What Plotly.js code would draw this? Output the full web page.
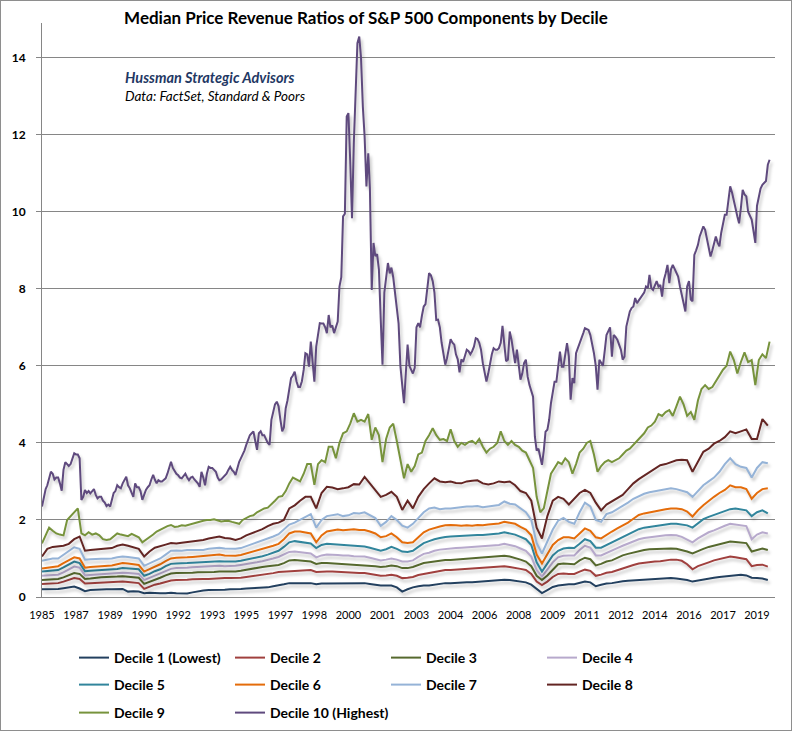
<!DOCTYPE html>
<html><head><meta charset="utf-8">
<script src="https://cdn.plot.ly/plotly-3.0.1.min.js"></script>
<style>html,body{margin:0;padding:0;background:#fff;}#frame{position:absolute;left:0;top:0;width:792px;height:731px;box-sizing:border-box;border:1px solid #8e8e8e;pointer-events:none;}
#chart .scatterlayer .js-line{filter:drop-shadow(2px 3px 1.5px rgba(0,0,0,0.22));}</style>
</head><body>
<div id="chart" style="position:absolute;left:0;top:0;width:792px;height:731px;"></div><div id="frame"></div>
<script>
// Monthly from Dec 1985
const decile10 = [
2.35,2.6,2.8,2.9,3.1,3.25,3.2,3.05,3.1,3.1,2.95,2.76,
3.3,3.5,3.45,3.4,3.45,3.6,3.73,3.7,3.7,3.6,2.52,2.6,
2.78,2.7,2.75,2.69,2.75,2.8,2.65,2.56,2.6,2.6,2.5,2.45,
2.36,2.4,2.35,2.5,2.7,2.75,2.9,2.85,2.82,2.95,3.05,3.12,
2.9,2.82,2.7,2.6,2.95,2.85,2.85,2.75,2.52,2.65,2.78,2.85,
2.9,3.05,3.17,3.05,2.95,3.03,3.0,3.0,3.05,3.08,3.2,3.35,
3.51,3.35,3.25,3.2,3.16,3.1,3.08,3.15,3.2,3.1,3.03,3.1,
3.12,3.05,3.0,2.95,2.86,3.25,3.1,2.9,3.2,3.38,3.35,3.35,
3.3,3.25,3.1,3.03,3.05,3.1,3.15,3.2,3.3,3.38,3.3,3.25,
3.17,3.35,3.51,3.6,3.69,3.8,3.95,4.1,4.2,4.25,4.3,4.05,
3.82,4.25,4.3,4.2,4.2,4.1,4.0,3.95,4.6,4.8,5.0,5.07,
4.95,4.6,4.3,4.4,4.9,5.1,5.4,5.68,5.75,5.85,5.6,5.45,
5.45,5.6,5.9,6.33,6.3,5.98,6.63,6.1,5.59,6.5,6.8,7.11,
7.1,7.1,7.0,6.85,7.32,7.0,7.05,6.85,7.0,7.15,8.06,8.3,
9.88,9.95,12.47,12.56,11.3,9.83,11.8,13.17,14.38,14.55,14.0,12.73,
11.96,10.66,11.52,10.6,7.97,9.19,8.85,8.9,8.5,7.2,6.03,7.9,
8.3,8.67,8.4,8.55,8.3,7.97,7.5,7.1,6.0,5.5,5.03,5.8,
6.55,6.0,5.9,5.8,5.95,7.0,7.11,7.0,7.3,7.54,7.6,8.06,
8.41,8.35,8.2,7.9,7.19,7.2,7.0,6.6,6.3,6.03,6.2,6.42,
6.69,6.6,6.55,6.3,6.17,5.83,6.17,6.1,6.3,6.42,6.38,6.3,
6.38,6.5,6.72,6.7,6.6,6.42,6.07,5.8,5.59,5.8,6.07,6.3,
6.46,6.42,6.42,6.46,6.6,7.04,6.55,6.12,6.16,6.89,6.68,6.4,
6.07,6.42,5.98,5.64,5.8,6.07,6.16,5.72,5.5,5.37,5.2,4.16,
3.8,3.85,3.64,3.43,3.8,4.29,4.34,4.6,5.03,5.3,5.59,5.59,
6.0,6.37,5.98,5.98,6.3,6.59,6.24,5.12,5.68,5.55,6.33,6.45,
6.59,6.7,6.85,6.98,6.95,6.93,6.8,6.59,6.33,6.0,5.38,6.16,
6.07,6.0,6.4,6.8,6.9,7.0,6.24,6.8,6.75,6.68,6.55,6.42,
6.16,6.24,7.02,7.2,7.41,7.5,7.54,7.76,7.63,7.7,7.76,7.85,
7.9,8.06,8.02,8.36,8.02,7.97,8.1,8.2,8.06,8.1,7.8,8.23,
8.4,8.62,8.15,8.5,8.62,8.53,8.4,8.32,8.06,7.8,7.63,7.41,
8.06,8.2,7.72,7.68,8.88,9.0,9.14,9.36,9.5,9.62,9.53,9.3,
9.1,8.84,9.0,9.19,9.36,9.2,9.1,9.45,9.7,9.92,9.92,10.3,
10.66,10.5,10.32,10.1,9.88,9.7,10.1,10.57,10.45,10.4,10.0,9.9,
9.8,9.5,9.19,10.15,10.4,10.6,10.7,10.75,10.8,11.22,11.35];

// Every two months from Dec 1985
const decile9 = [
1.39,1.6,1.8,1.72,1.65,1.62,1.6,2.0,2.1,2.2,2.3,1.65,
1.6,1.68,1.62,1.65,1.6,1.5,1.48,1.5,1.58,1.65,1.62,1.6,
1.58,1.64,1.6,1.55,1.42,1.48,1.55,1.62,1.7,1.75,1.8,1.84,
1.87,1.82,1.83,1.86,1.85,1.88,1.9,1.92,1.95,1.98,2.0,2.0,
2.02,1.98,1.96,1.97,1.98,1.95,1.92,1.9,2.0,2.05,2.1,2.12,
2.2,2.25,2.3,2.32,2.4,2.5,2.6,2.62,2.75,2.95,3.1,3.05,
3.0,3.2,3.45,3.45,2.91,3.45,3.55,3.5,3.9,3.9,3.6,4.0,
4.25,4.3,4.5,4.77,4.55,4.6,4.55,4.75,4.08,4.4,4.2,3.5,
4.1,4.4,4.5,4.05,3.6,3.08,3.45,3.25,3.4,3.7,3.75,4.05,
4.2,4.38,4.2,4.08,4.1,4.05,4.35,4.05,3.9,4.0,3.95,4.02,
4.05,3.98,4.1,3.9,3.75,3.85,3.9,4.0,4.3,4.05,3.95,4.05,
3.95,3.9,3.8,3.75,3.55,3.35,2.6,2.2,2.3,2.75,3.2,3.35,
3.5,3.45,3.6,3.5,3.2,3.45,3.75,3.85,4.0,4.05,3.7,3.25,
3.4,3.5,3.55,3.5,3.55,3.6,3.7,3.8,3.85,3.95,4.05,4.15,
4.25,4.4,4.45,4.55,4.75,4.7,4.8,4.85,4.7,4.95,5.2,5.0,
4.7,4.8,4.6,5.1,5.4,5.5,5.4,5.45,5.6,5.75,5.9,6.0,
6.37,6.15,5.8,6.1,6.35,6.1,6.15,5.5,6.15,6.3,6.2,6.63];

// Quarterly from Dec 1985
const decile8 = [
1.05,1.25,1.3,1.31,1.33,1.38,1.5,1.57,1.2,1.22,1.23,1.25,
1.25,1.27,1.33,1.36,1.33,1.3,1.25,1.05,1.18,1.28,1.33,1.36,
1.4,1.39,1.41,1.43,1.44,1.45,1.48,1.52,1.55,1.57,1.53,1.52,
1.48,1.52,1.6,1.65,1.7,1.76,1.84,1.9,1.93,2.0,2.3,2.38,
2.5,2.6,2.6,2.3,2.7,2.86,2.84,2.8,2.82,2.85,2.93,2.92,
3.12,2.95,2.8,2.6,2.65,2.73,2.6,2.26,2.5,2.3,2.6,2.8,
2.95,3.08,3.0,2.98,3.0,2.96,2.95,3.0,3.02,3.03,2.95,2.92,
2.95,3.0,2.98,3.0,2.9,2.75,2.7,2.5,1.8,1.52,2.1,2.5,
2.6,2.55,2.4,2.55,2.7,2.78,2.7,2.45,2.25,2.4,2.48,2.55,
2.65,2.8,2.95,3.06,3.15,3.25,3.35,3.42,3.45,3.5,3.55,3.56,
3.55,3.25,3.5,3.77,3.85,3.98,4.05,4.15,4.3,4.25,4.3,4.35,
4.1,4.1,4.62,4.45];
const decile7 = [
0.94,0.97,1.0,1.0,1.1,1.2,1.29,1.25,0.97,0.98,0.99,0.99,
0.99,1.0,1.03,1.05,1.04,1.02,1.0,0.81,0.88,0.95,1.0,1.1,
1.2,1.21,1.2,1.22,1.22,1.23,1.22,1.25,1.27,1.28,1.26,1.25,
1.25,1.27,1.32,1.36,1.4,1.45,1.5,1.57,1.63,1.75,1.88,1.93,
2.0,2.08,2.15,1.8,2.0,2.1,2.12,2.15,2.1,2.12,2.18,2.17,
2.2,2.12,2.05,1.85,1.95,2.1,2.0,1.85,1.8,1.9,2.05,2.2,
2.3,2.32,2.28,2.3,2.3,2.32,2.33,2.35,2.35,2.36,2.33,2.35,
2.38,2.39,2.48,2.42,2.4,2.3,2.2,2.0,1.4,1.13,1.45,1.75,
1.98,2.05,1.95,1.9,2.2,2.45,2.35,2.0,1.95,2.15,2.2,2.28,
2.35,2.45,2.55,2.62,2.68,2.72,2.75,2.78,2.8,2.82,2.8,2.75,
2.72,2.6,2.75,2.9,3.0,3.1,3.25,3.45,3.6,3.45,3.38,3.35,
3.1,3.35,3.5,3.47];
const decile6 = [
0.74,0.76,0.78,0.8,0.88,0.95,1.03,1.0,0.76,0.78,0.79,0.8,
0.81,0.82,0.85,0.88,0.87,0.85,0.83,0.66,0.72,0.8,0.85,0.93,
1.0,1.02,1.02,1.03,1.04,1.05,1.05,1.07,1.08,1.1,1.08,1.07,
1.07,1.09,1.13,1.16,1.2,1.24,1.28,1.33,1.38,1.5,1.65,1.7,
1.7,1.68,1.65,1.42,1.6,1.7,1.72,1.75,1.73,1.75,1.76,1.74,
1.74,1.7,1.65,1.55,1.58,1.65,1.55,1.42,1.4,1.42,1.55,1.68,
1.75,1.8,1.83,1.86,1.87,1.86,1.85,1.86,1.85,1.87,1.86,1.88,
1.9,1.91,1.95,1.92,1.9,1.82,1.75,1.6,1.1,0.87,1.1,1.35,
1.48,1.55,1.55,1.52,1.65,1.78,1.72,1.55,1.52,1.62,1.7,1.78,
1.85,1.93,2.03,2.13,2.17,2.2,2.23,2.25,2.28,2.3,2.3,2.28,
2.22,2.09,2.25,2.38,2.5,2.6,2.7,2.78,2.9,2.85,2.85,2.8,
2.55,2.7,2.8,2.82];
const decile5 = [
0.66,0.67,0.69,0.7,0.77,0.85,0.92,0.88,0.67,0.68,0.69,0.7,
0.7,0.71,0.73,0.75,0.74,0.73,0.72,0.55,0.6,0.67,0.72,0.8,
0.86,0.87,0.87,0.88,0.89,0.9,0.9,0.91,0.92,0.93,0.92,0.92,
0.92,0.94,0.97,1.0,1.02,1.06,1.1,1.15,1.2,1.3,1.42,1.45,
1.43,1.41,1.39,1.27,1.35,1.38,1.37,1.36,1.35,1.35,1.33,1.32,
1.31,1.28,1.25,1.2,1.24,1.3,1.25,1.18,1.17,1.2,1.3,1.4,
1.45,1.5,1.53,1.56,1.57,1.58,1.58,1.6,1.6,1.61,1.61,1.62,
1.64,1.65,1.68,1.65,1.62,1.56,1.5,1.35,0.9,0.66,0.88,1.08,
1.2,1.26,1.28,1.27,1.38,1.5,1.45,1.28,1.28,1.35,1.4,1.48,
1.56,1.63,1.7,1.76,1.8,1.82,1.84,1.86,1.88,1.9,1.9,1.88,
1.86,1.8,1.92,2.02,2.08,2.13,2.18,2.22,2.28,2.3,2.27,2.25,
2.1,2.2,2.25,2.17];
const decile4 = [
0.55,0.56,0.57,0.58,0.64,0.72,0.79,0.76,0.56,0.57,0.58,0.59,
0.6,0.6,0.62,0.63,0.62,0.61,0.6,0.44,0.5,0.56,0.6,0.67,
0.73,0.75,0.75,0.76,0.77,0.78,0.78,0.79,0.8,0.81,0.8,0.8,
0.81,0.83,0.85,0.88,0.9,0.93,0.96,1.0,1.04,1.1,1.17,1.18,
1.16,1.15,1.13,1.03,1.08,1.1,1.1,1.09,1.08,1.08,1.06,1.05,
1.05,1.02,0.99,0.95,0.97,1.0,0.97,0.92,0.92,0.95,1.04,1.12,
1.15,1.2,1.23,1.25,1.26,1.27,1.28,1.29,1.3,1.31,1.31,1.32,
1.34,1.35,1.38,1.35,1.32,1.26,1.2,1.05,0.7,0.53,0.7,0.9,
1.03,1.07,1.08,1.08,1.22,1.33,1.28,1.08,1.08,1.15,1.2,1.27,
1.33,1.38,1.45,1.5,1.53,1.55,1.57,1.58,1.6,1.61,1.6,1.56,
1.5,1.42,1.52,1.6,1.68,1.73,1.8,1.85,1.9,1.88,1.86,1.84,
1.5,1.62,1.68,1.65];
const decile3 = [
0.44,0.45,0.46,0.47,0.51,0.57,0.62,0.6,0.47,0.48,0.5,0.51,
0.52,0.52,0.53,0.54,0.53,0.52,0.5,0.34,0.4,0.46,0.5,0.56,
0.61,0.62,0.62,0.63,0.63,0.64,0.64,0.65,0.65,0.66,0.66,0.66,
0.66,0.68,0.71,0.73,0.76,0.78,0.8,0.81,0.83,0.88,0.95,0.96,
0.95,0.94,0.92,0.86,0.88,0.88,0.87,0.87,0.86,0.86,0.84,0.83,
0.83,0.82,0.8,0.78,0.79,0.82,0.8,0.75,0.75,0.78,0.84,0.88,
0.9,0.92,0.94,0.96,0.96,0.97,0.98,0.99,1.0,1.01,1.02,1.03,
1.04,1.05,1.07,1.05,1.02,0.97,0.92,0.8,0.55,0.44,0.56,0.72,
0.85,0.87,0.86,0.85,0.95,1.02,0.98,0.82,0.86,0.92,0.95,1.02,
1.08,1.12,1.16,1.2,1.22,1.24,1.25,1.26,1.26,1.26,1.25,1.22,
1.18,1.13,1.2,1.25,1.3,1.33,1.37,1.4,1.44,1.43,1.42,1.4,
1.18,1.22,1.26,1.22];
const decile2 = [
0.34,0.35,0.35,0.36,0.4,0.45,0.49,0.47,0.35,0.36,0.37,0.38,
0.38,0.38,0.39,0.4,0.39,0.38,0.36,0.21,0.27,0.32,0.35,0.4,
0.43,0.44,0.44,0.45,0.46,0.47,0.47,0.47,0.48,0.48,0.49,0.49,
0.49,0.5,0.52,0.54,0.55,0.57,0.6,0.62,0.65,0.66,0.66,0.67,
0.68,0.69,0.7,0.65,0.66,0.66,0.66,0.65,0.64,0.64,0.63,0.62,
0.62,0.6,0.58,0.55,0.56,0.58,0.55,0.49,0.5,0.52,0.57,0.6,
0.62,0.65,0.68,0.7,0.7,0.71,0.72,0.73,0.74,0.75,0.76,0.77,
0.78,0.79,0.8,0.78,0.76,0.73,0.7,0.6,0.4,0.31,0.4,0.52,
0.6,0.61,0.6,0.6,0.66,0.71,0.68,0.55,0.58,0.63,0.65,0.7,
0.75,0.78,0.83,0.87,0.89,0.91,0.92,0.93,0.95,0.97,0.97,0.94,
0.85,0.72,0.8,0.86,0.9,0.95,0.99,1.02,1.05,1.03,1.0,0.98,
0.8,0.83,0.84,0.79];
const decile1 = [
0.2,0.2,0.21,0.21,0.23,0.25,0.27,0.22,0.15,0.18,0.19,0.2,
0.2,0.2,0.21,0.21,0.14,0.15,0.14,0.1,0.11,0.1,0.1,0.1,
0.11,0.1,0.1,0.09,0.12,0.15,0.17,0.18,0.18,0.19,0.19,0.2,
0.2,0.21,0.22,0.23,0.24,0.25,0.25,0.28,0.3,0.33,0.36,0.36,
0.36,0.37,0.36,0.33,0.35,0.35,0.35,0.35,0.35,0.36,0.36,0.36,
0.36,0.34,0.32,0.3,0.3,0.3,0.25,0.14,0.2,0.25,0.28,0.3,
0.3,0.32,0.34,0.36,0.36,0.37,0.37,0.38,0.38,0.39,0.4,0.42,
0.43,0.44,0.45,0.44,0.42,0.4,0.38,0.32,0.2,0.1,0.18,0.26,
0.3,0.32,0.33,0.33,0.36,0.4,0.38,0.28,0.32,0.35,0.36,0.39,
0.41,0.42,0.43,0.44,0.45,0.46,0.47,0.47,0.48,0.49,0.48,0.46,
0.44,0.4,0.43,0.46,0.48,0.5,0.52,0.54,0.56,0.57,0.58,0.56,
0.5,0.49,0.48,0.44];

const seriesNames = ['Decile 1 (Lowest)','Decile 2','Decile 3','Decile 4','Decile 5','Decile 6','Decile 7','Decile 8','Decile 9','Decile 10 (Highest)'];
const tickLabels = ['1985','1987','1989','1990','1992','1993','1995','1997','1998','2000','2001','2003','2004','2006','2008','2009','2011','2012','2014','2016','2017','2019'];

const seriesValues = [decile1,decile2,decile3,decile4,decile5,decile6,decile7,decile8,decile9,decile10];
const seriesStep = [3,3,3,3,3,3,3,3,2,1]; // months between observations
const colors = ['#23405f','#a0403e','#56692e','#b7a9cc','#31859c','#e46c0a','#95b3d7','#632523','#77933c','#5f4a7e'];
const legendOf = ['legend','legend','legend','legend','legend2','legend2','legend2','legend2','legend3','legend3'];

function monthDate(i){
  const tot = 1985*12 + 11 + i;
  const y = Math.floor(tot/12), mo = tot % 12 + 1;
  return y + '-' + String(mo).padStart(2,'0') + '-01';
}

const FONT = 'Lato, "Open Sans", sans-serif';
const traces = seriesValues.map((vals, k) => {
  const t = {
    type: 'scatter', mode: 'lines', name: seriesNames[k],
    x: vals.map((_, i) => monthDate(i * seriesStep[k])),
    y: vals,
    line: {color: colors[k], width: 2},
    legend: legendOf[k],
    hoverinfo: 'skip'
  };
  if (k === 9) t.legendwidth = 160;
  return t;
});

const L = 42, R = 17, T = 23, B = 134;
const W = 792, H = 731;
const pw = W - L - R, ph = H - T - B;
const px = v => (v - L) / pw;
const py = v => (H - B - v) / ph;

const legendBase = {
  orientation: 'h', xanchor: 'left', yanchor: 'middle',
  entrywidth: 111, entrywidthmode: 'pixels', itemwidth: 30,
  font: {family: FONT, size: 14, color: '#000', weight: 'bold'},
  bgcolor: 'rgba(0,0,0,0)', traceorder: 'normal'
};

const layout = {
  width: W, height: H,
  margin: {l: L, r: R, t: T, b: B, autoexpand: false},
  paper_bgcolor: '#fff', plot_bgcolor: '#fff',
  showlegend: true,
  title: {text: '<b>Median Price Revenue Ratios of S&P 500 Components by Decile</b>',
    font: {family: FONT, size: 17, color: '#000'},
    x: 366 / W, xref: 'container', xanchor: 'center', y: 1 - 18 / H, yref: 'container', yanchor: 'middle'},
  xaxis: {
    type: 'date', range: [monthDate(0), '2020-01-01'],
    tickmode: 'array',
    tickvals: tickLabels.map((_, i) => monthDate(19 * i)),
    ticktext: tickLabels,
    showgrid: false, zeroline: false,
    showline: true, linecolor: '#868686', linewidth: 1,
    ticks: 'outside', ticklen: 8, tickcolor: 'rgba(0,0,0,0)',
    tickfont: {family: FONT, size: 11, color: '#000'}
  },
  yaxis: {
    range: [0, 14.9], dtick: 2, tick0: 0,
    showgrid: true, gridcolor: '#868686', gridwidth: 1,
    zeroline: false, showline: true, linecolor: '#868686', linewidth: 1,
    ticks: 'outside', ticklen: 5, tickcolor: '#868686', ticklabelstandoff: 8,
    tickfont: {family: FONT, size: 12, color: '#000', weight: 'bold'}
  },
  legend: Object.assign({}, legendBase, {x: px(74), y: py(658)}),
  legend2: Object.assign({}, legendBase, {x: px(74), y: py(685)}),
  legend3: Object.assign({}, legendBase, {x: px(74), y: py(713)}),
  annotations: [
    {text: '<b><i>Hussman Strategic Advisors</i></b>', xref: 'paper', yref: 'paper', x: px(123), y: py(77),
     xanchor: 'left', yanchor: 'middle', showarrow: false, font: {family: FONT, size: 14.5, color: '#1f3864'}},
    {text: '<i>Data: FactSet, Standard & Poors</i>', xref: 'paper', yref: 'paper', x: px(123), y: py(96),
     xanchor: 'left', yanchor: 'middle', showarrow: false, font: {family: FONT, size: 13.5, color: '#000'}}
  ]
};

Plotly.newPlot('chart', traces, layout, {displayModeBar: false, staticPlot: true});
</script>
</body></html>
